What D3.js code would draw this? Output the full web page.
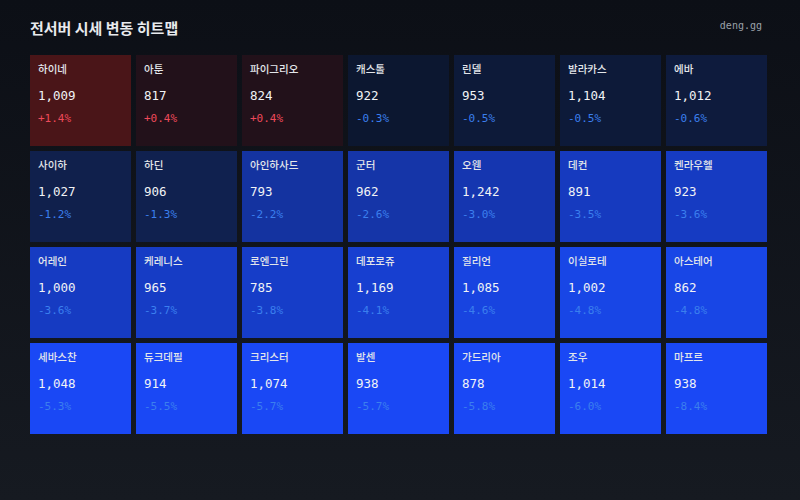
<!DOCTYPE html>
<html><head><meta charset="utf-8">
<script src="https://cdn.jsdelivr.net/npm/d3@7"></script>
<style>html,body{margin:0;padding:0;background:#0d1017;}svg{display:block;}</style>
</head><body>
<svg id="chart" width="800" height="500"></svg>
<script>
const names = ["하이네","아툰","파이그리오","캐스톨","린델","발라카스","에바",
  "사이하","하딘","아인하사드","군터","오웬","데컨","켄라우헬",
  "어레인","케레니스","로엔그린","데포로쥬","질리언","이실로테","아스테어",
  "세바스찬","듀크데필","크리스터","발센","가드리아","조우","마프르"];
const values = [1009,817,824,922,953,1104,1012,
  1027,906,793,962,1242,891,923,
  1000,965,785,1169,1085,1002,862,
  1048,914,1074,938,878,1014,938];
const changes = [1.4,0.4,0.4,-0.3,-0.5,-0.5,-0.6,
  -1.2,-1.3,-2.2,-2.6,-3.0,-3.5,-3.6,
  -3.6,-3.7,-3.8,-4.1,-4.6,-4.8,-4.8,
  -5.3,-5.5,-5.7,-5.7,-5.8,-6.0,-8.4];
const nCols = 7;

const W = 800, H = 500;
const svg = d3.select("#chart");
const defs = svg.append("defs");
const grad = defs.append("linearGradient").attr("id","bg").attr("x1",0).attr("y1",0).attr("x2",0).attr("y2",1);
grad.append("stop").attr("offset","0%").attr("stop-color","#0c0f16");
grad.append("stop").attr("offset","100%").attr("stop-color","#161a21");
svg.append("rect").attr("width",W).attr("height",H).attr("fill","url(#bg)");

svg.append("text").attr("x",30).attr("y",34)
  .attr("font-family","'Noto Sans CJK KR', 'Noto Sans', sans-serif")
  .attr("font-size",15).attr("font-weight",700).attr("fill","#e8eaed")
  .text("전서버 시세 변동 히트맵");
svg.append("text").attr("x",762).attr("y",29).attr("text-anchor","end")
  .attr("font-family","'DejaVu Sans Mono', monospace")
  .attr("font-size",10).attr("fill","#9aa0a8")
  .text("deng.gg");

const data = names.map((n,i)=>({name:n, value:values[i], change:changes[i], col:i%nCols, row:Math.floor(i/nCols)}));
const nRows = Math.ceil(names.length/nCols);

const x = d3.scaleBand().domain(d3.range(nCols)).range([30, 767]).paddingInner(5/106);
const y = d3.scaleBand().domain(d3.range(nRows)).range([55, 434]).paddingInner(5/96);

const blue = d3.scaleLinear()
  .domain([0, -0.3, -0.6, -1.3, -2.2, -3.0, -3.6, -4.1, -4.8, -5.3])
  .range(["#0d1528","#0c1730","#0e1b3d","#10214f","#1433a0","#1536b0","#163bc2","#173fd0","#1846e6","#1a48f5"])
  .clamp(true);
const red = d3.scaleLinear()
  .domain([0, 0.4, 1.4])
  .range(["#16121c","#22111a","#4a1518"])
  .clamp(true);
const fill = c => c >= 0 ? red(c) : blue(c);

const fmt = d3.format(",");
const cells = svg.append("g").selectAll("g").data(data).join("g")
  .attr("transform", d=>`translate(${x(d.col)},${y(d.row)})`);

cells.append("rect").attr("width",x.bandwidth()).attr("height",y.bandwidth())
  .attr("fill", d=>fill(d.change));

cells.append("text").attr("x",8).attr("y",18)
  .attr("font-family","'Noto Sans CJK KR', sans-serif")
  .attr("font-size",10.5).attr("font-weight",500).attr("fill","#e3e6ea")
  .text(d=>d.name);

cells.append("text").attr("x",8).attr("y",45)
  .attr("font-family","'DejaVu Sans Mono', monospace")
  .attr("font-size",12.5).attr("fill","#f1f3f5")
  .text(d=>fmt(d.value));

cells.append("text").attr("x",8).attr("y",67)
  .attr("font-family","'DejaVu Sans Mono', monospace")
  .attr("font-size",11)
  .attr("fill", d=>d.change>=0 ? "#ef4a5a" : "#3b7fee")
  .text(d=>(d.change>0?"+":"")+d.change.toFixed(1)+"%");
</script>
</body></html>
